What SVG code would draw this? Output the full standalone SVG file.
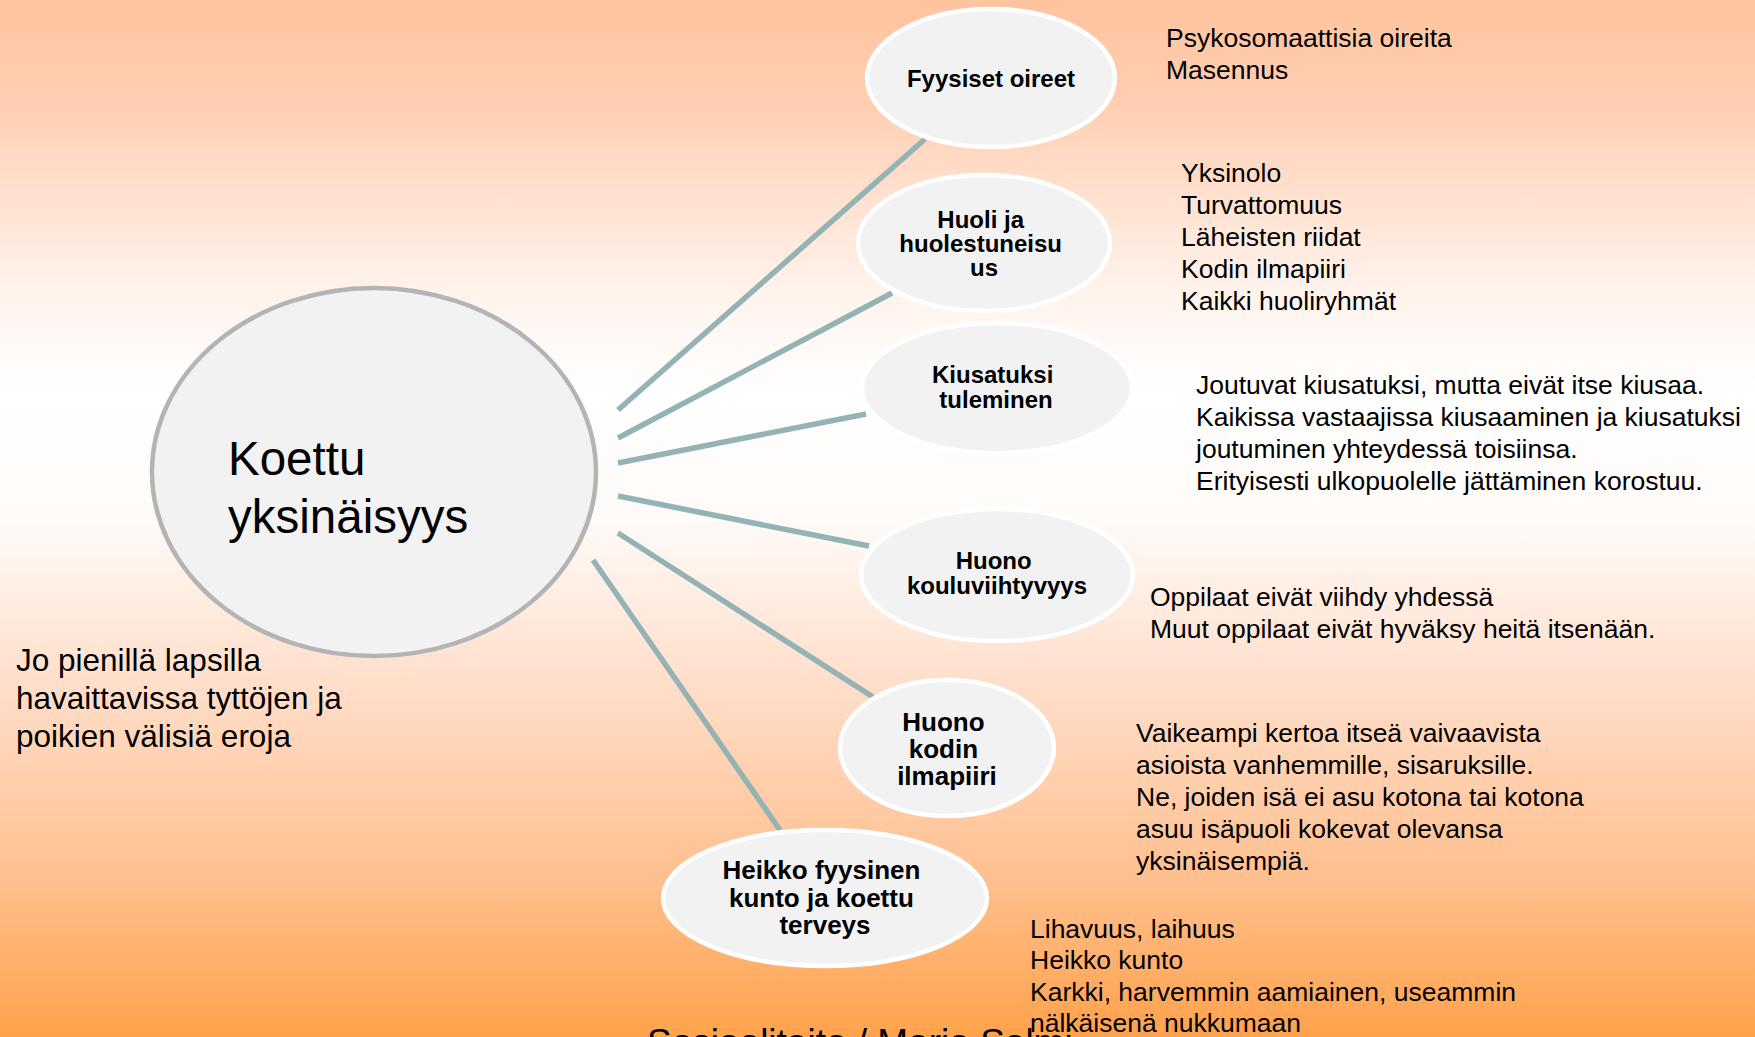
<svg xmlns="http://www.w3.org/2000/svg" width="1755" height="1037" viewBox="0 0 1755 1037">
  <defs>
    <linearGradient id="bg" x1="0" y1="0" x2="0" y2="1">
      <stop offset="0" stop-color="#ffc39e"/>
      <stop offset="0.1" stop-color="#ffcfb2"/>
      <stop offset="0.28" stop-color="#fff3ec"/>
      <stop offset="0.38" stop-color="#ffffff"/>
      <stop offset="0.5" stop-color="#fffbf8"/>
      <stop offset="0.65" stop-color="#ffe0cd"/>
      <stop offset="0.85" stop-color="#ffbf8e"/>
      <stop offset="1" stop-color="#ffa24b"/>
    </linearGradient>
    <style>
      .sub { fill: #f2f2f2; stroke: #ffffff; stroke-width: 4.5; }
      .main { fill: #f2f2f2; stroke: #b4b4b4; stroke-width: 4.5; }
      .lbl { font-family: "Liberation Sans", Arial, sans-serif; font-weight: bold; font-size: 24px; fill: #000; text-anchor: middle; }
      .lbl26 { font-size: 26px; }
      .txt { font-family: "Liberation Sans", Arial, sans-serif; font-size: 26.5px; fill: #000; }
      .conn { stroke: #94b3b5; stroke-width: 5.5; fill: none; }
    </style>
  </defs>
  <rect x="0" y="0" width="1755" height="1037" fill="url(#bg)"/>

  <g id="connectors">
    <line class="conn" x1="618" y1="410" x2="925" y2="139"/>
    <line class="conn" x1="618" y1="438" x2="892" y2="293"/>
    <line class="conn" x1="618" y1="463" x2="866" y2="414"/>
    <line class="conn" x1="618" y1="496" x2="869" y2="546"/>
    <line class="conn" x1="618" y1="533" x2="873" y2="697"/>
    <line class="conn" x1="593" y1="560" x2="780" y2="830"/>
  </g>

  <g id="koettu-yksinaisyys">
    <ellipse class="main" cx="374" cy="472" rx="222" ry="184"/>
    <text font-family="Liberation Sans, Arial, sans-serif" font-size="47.5" fill="#000">
      <tspan x="228" y="475">Koettu</tspan>
      <tspan x="228" y="533">yksinäisyys</tspan>
    </text>
  </g>

  <g id="fyysiset-oireet">
    <ellipse class="sub" cx="991" cy="78" rx="124" ry="69"/>
    <text class="lbl" x="991" y="87">Fyysiset oireet</text>
  </g>

  <g id="huoli">
    <ellipse class="sub" cx="984" cy="243" rx="126" ry="68"/>
    <text class="lbl">
      <tspan x="984" y="228">Huoli ja</tspan>
      <tspan x="984" y="252">huolestuneisu</tspan>
      <tspan x="984" y="276">us</tspan>
    </text>
  </g>

  <g id="kiusatuksi">
    <ellipse class="sub" cx="997" cy="388" rx="135" ry="65"/>
    <text class="lbl">
      <tspan x="996" y="383">Kiusatuksi</tspan>
      <tspan x="996" y="408">tuleminen</tspan>
    </text>
  </g>

  <g id="kouluviihtyvyys">
    <ellipse class="sub" cx="997" cy="575" rx="136" ry="66"/>
    <text class="lbl">
      <tspan x="997" y="569">Huono</tspan>
      <tspan x="997" y="594">kouluviihtyvyys</tspan>
    </text>
  </g>

  <g id="kodin-ilmapiiri">
    <ellipse class="sub" cx="947" cy="748" rx="107" ry="68"/>
    <text class="lbl lbl26">
      <tspan x="947" y="731">Huono</tspan>
      <tspan x="947" y="758">kodin</tspan>
      <tspan x="947" y="785">ilmapiiri</tspan>
    </text>
  </g>

  <g id="fyysinen-kunto">
    <ellipse class="sub" cx="825" cy="898" rx="162" ry="68"/>
    <text class="lbl lbl26">
      <tspan x="825" y="879">Heikko fyysinen</tspan>
      <tspan x="825" y="907">kunto ja koettu</tspan>
      <tspan x="825" y="934">terveys</tspan>
    </text>
  </g>

  <g id="texts">
    <text class="txt">
      <tspan x="1166" y="47">Psykosomaattisia oireita</tspan>
      <tspan x="1166" y="79">Masennus</tspan>
    </text>
    <text class="txt">
      <tspan x="1181" y="182">Yksinolo</tspan>
      <tspan x="1181" y="214">Turvattomuus</tspan>
      <tspan x="1181" y="246">Läheisten riidat</tspan>
      <tspan x="1181" y="278">Kodin ilmapiiri</tspan>
      <tspan x="1181" y="310">Kaikki huoliryhmät</tspan>
    </text>
    <text class="txt">
      <tspan x="1196" y="394">Joutuvat kiusatuksi, mutta eivät itse kiusaa.</tspan>
      <tspan x="1196" y="426">Kaikissa vastaajissa kiusaaminen ja kiusatuksi</tspan>
      <tspan x="1196" y="458">joutuminen yhteydessä toisiinsa.</tspan>
      <tspan x="1196" y="490">Erityisesti ulkopuolelle jättäminen korostuu.</tspan>
    </text>
    <text class="txt">
      <tspan x="1150" y="606">Oppilaat eivät viihdy yhdessä</tspan>
      <tspan x="1150" y="638">Muut oppilaat eivät hyväksy heitä itsenään.</tspan>
    </text>
    <text class="txt">
      <tspan x="1136" y="742">Vaikeampi kertoa itseä vaivaavista</tspan>
      <tspan x="1136" y="774">asioista vanhemmille, sisaruksille.</tspan>
      <tspan x="1136" y="806">Ne, joiden isä ei asu kotona tai kotona</tspan>
      <tspan x="1136" y="838">asuu isäpuoli kokevat olevansa</tspan>
      <tspan x="1136" y="870">yksinäisempiä.</tspan>
    </text>
    <text class="txt">
      <tspan x="1030" y="938">Lihavuus, laihuus</tspan>
      <tspan x="1030" y="969">Heikko kunto</tspan>
      <tspan x="1030" y="1001">Karkki, harvemmin aamiainen, useammin</tspan>
      <tspan x="1030" y="1032">nälkäisenä nukkumaan</tspan>
    </text>
    <text font-family="Liberation Sans, Arial, sans-serif" font-size="31.5" fill="#000">
      <tspan x="16" y="671">Jo pienillä lapsilla</tspan>
      <tspan x="16" y="709">havaittavissa tyttöjen ja</tspan>
      <tspan x="16" y="747">poikien välisiä eroja</tspan>
    </text>
    <text x="647" y="1055" font-family="Liberation Sans, Arial, sans-serif" font-size="37" fill="#000">Sosiaalitaito / Maria Salmi</text>
  </g>
</svg>
